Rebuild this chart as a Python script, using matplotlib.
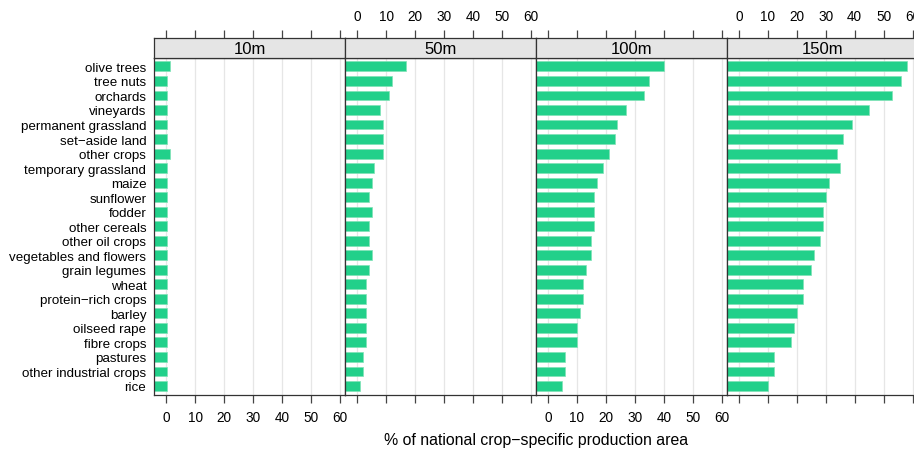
"""
Share of national crop-specific production area per buffer distance
(lattice-style horizontal bar panels: 10m / 50m / 100m / 150m)
"""

import matplotlib.pyplot as plt
import numpy as np

plt.rcParams["font.family"] = ["Liberation Sans", "DejaVu Sans"]

crops = ["olive trees", "tree nuts", "orchards", "vineyards", "permanent grassland",
         "set\u2212aside land", "other crops", "temporary grassland", "maize", "sunflower",
         "fodder", "other cereals", "other oil crops", "vegetables and flowers",
         "grain legumes", "wheat", "protein\u2212rich crops", "barley", "oilseed rape",
         "fibre crops", "pastures", "other industrial crops", "rice"]

buffers = ["10m", "50m", "100m", "150m"]

share_10m = [1.2, 0.2, 0.2, 0.2, 0.2, 0.2, 1.2, 0.2, 0.2, 0.2, 0.2, 0.2,
             0.2, 0.2, 0.2, 0.2, 0.2, 0.2, 0.2, 0.2, 0.2, 0.2, 0.2]
share_50m = [17, 12, 11, 8, 9, 9, 9, 6, 5, 4, 5, 4,
             4, 5, 4, 3, 3, 3, 3, 3, 2, 2, 1]
share_100m = [40, 35, 33, 27, 24, 23, 21, 19, 17, 16, 16, 16,
              15, 15, 13, 12, 12, 11, 10, 10, 6, 6, 5]
share_150m = [58, 56, 53, 45, 39, 36, 34, 35, 31, 30, 29, 29,
              28, 26, 25, 22, 22, 20, 19, 18, 12, 12, 10]

shares = [share_10m, share_50m, share_100m, share_150m]
xticks = [0, 10, 20, 30, 40, 50, 60]

W, H = 914, 452
fig = plt.figure(figsize=(W / 100, H / 100), dpi=100)

# panel geometry in pixels (top-left origin)
left0, pw = 154, 190.9
panel_top, panel_bot = 58.7, 395.7
strip_top = 39.3
XLIM = (-4.2, 61.7)
green = "#22d08a"
edge = "#333333"
n = len(crops)
ypos = np.arange(n)

for i, (name, vals) in enumerate(zip(buffers, shares)):
    x0 = left0 + i * pw
    ax = fig.add_axes([x0 / W, 1 - panel_bot / H, pw / W, (panel_bot - panel_top) / H])
    ax.set_xlim(XLIM)
    ax.set_ylim(n - 0.4, -0.6)
    for t in xticks:
        ax.axvline(t, color="#e6e6e6", linewidth=0.9, zorder=0)
    vals = np.array(vals, dtype=float)
    ax.barh(ypos, vals - XLIM[0], left=XLIM[0], height=0.68, color=green,
            edgecolor="#7fe2b6", linewidth=0.5, zorder=2)
    for s in ax.spines.values():
        s.set_color(edge)
        s.set_linewidth(0.9)

    ax.set_xticks(xticks)
    ax.tick_params(axis="x", length=5.8, width=0.9, color="#444444", pad=5,
                   labelsize=9.8, labelbottom=(i % 2 == 0))
    if i == 0:
        ax.set_yticks(ypos)
        ax.set_yticklabels(crops)
        ax.tick_params(axis="y", length=0, pad=5.5, labelsize=9.6)
    else:
        ax.set_yticks([])

    # strip with the buffer name, ticks on its top edge
    sx = fig.add_axes([x0 / W, 1 - panel_top / H, pw / W, (panel_top - strip_top) / H])
    sx.set_facecolor("#e5e5e5")
    sx.set_xlim(XLIM)
    sx.set_ylim(0, 1)
    sx.set_yticks([])
    sx.set_xticks(xticks)
    sx.xaxis.tick_top()
    sx.tick_params(axis="x", length=5.8, width=0.9, color="#444444", pad=5.5,
                   labelsize=9.8, labeltop=(i % 2 == 1))
    for s in sx.spines.values():
        s.set_color(edge)
        s.set_linewidth(0.9)
    sx.text(0.5, 0.47, name, transform=sx.transAxes, ha="center", va="center",
            fontsize=12)

fig.text(536 / W, 1 - 441 / H, "% of national crop\u2212specific production area",
         ha="center", va="center", fontsize=11.4)

plt.savefig("out.png", dpi=100)
plt.close()
